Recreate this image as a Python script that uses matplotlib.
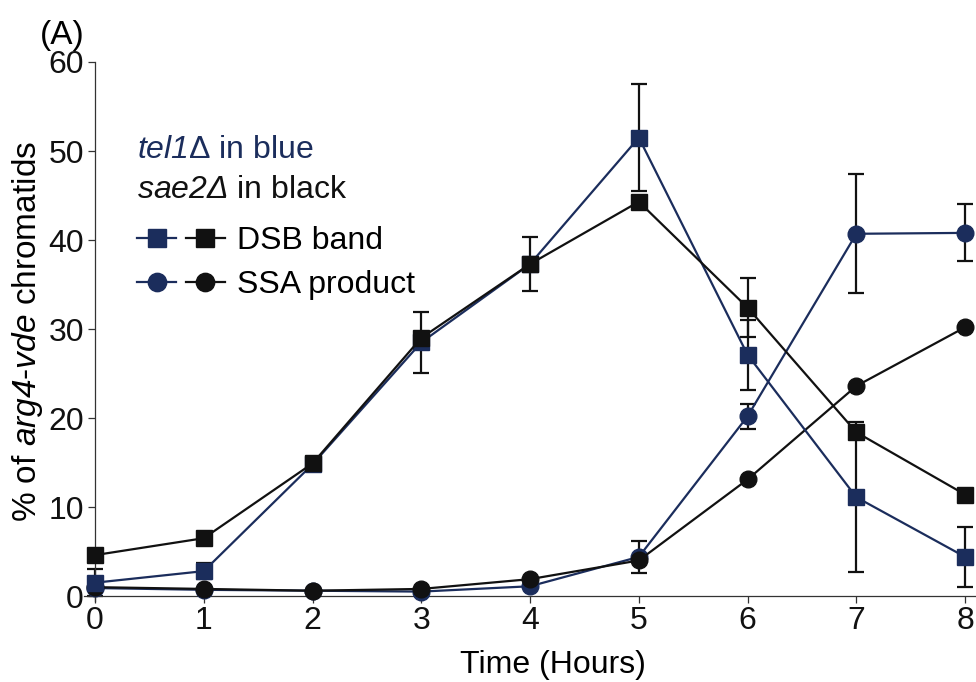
import matplotlib
matplotlib.use("Agg")
import matplotlib.pyplot as plt
from matplotlib.legend_handler import HandlerTuple

plt.rcParams['font.family'] = ['Liberation Sans', 'DejaVu Sans']
plt.rcParams['mathtext.fontset'] = 'custom'
# only the italic words go through mathtext, so digits there must be italic too
plt.rcParams['mathtext.rm'] = 'Liberation Sans:italic'
plt.rcParams['mathtext.it'] = 'Liberation Sans:italic'

hours = [0, 1, 2, 3, 4, 5, 6, 7, 8]

tel1_dsb = [1.5, 2.8, 14.8, 28.5, 37.3, 51.5, 27.1, 11.1, 4.4]
sae2_dsb = [4.6, 6.5, 14.9, 29.0, 37.3, 44.3, 32.4, 18.4, 11.4]
tel1_ssa = [0.9, 0.7, 0.6, 0.5, 1.1, 4.4, 20.2, 40.7, 40.8]
sae2_ssa = [1.0, 0.8, 0.6, 0.8, 1.9, 4.0, 13.1, 23.6, 30.2]

tel1_dsb_err = [1.5, 0.9, 0, 3.4, 3.0, 6.0, 3.9, 8.4, 3.4]
sae2_dsb_err = [0, 0, 0, 0, 0, 0, 3.3, 0, 0]
tel1_ssa_err = [0, 0, 0, 0, 0, 1.8, 1.4, 6.7, 3.2]
sae2_ssa_err = [0, 0, 0, 0, 0, 0, 0, 0, 0]

blue = '#1b2d5c'
black = '#111111'

fig = plt.figure(figsize=(9.76, 6.82), dpi=100)
ax = fig.add_axes([0.0862, 0.1195, 0.9138, 0.7896])

ekw = dict(fmt='none', ecolor=black, elinewidth=1.6, capsize=6, capthick=1.6, zorder=2)
for y, e in [(tel1_dsb, tel1_dsb_err), (sae2_dsb, sae2_dsb_err),
             (tel1_ssa, tel1_ssa_err), (sae2_ssa, sae2_ssa_err)]:
    ax.errorbar(hours, y, yerr=e, **ekw)

mk = dict(lw=1.6, markersize=12, clip_on=False, zorder=3)
l_ts, = ax.plot(hours, tel1_ssa, color=blue, marker='o', **mk)
l_ss, = ax.plot(hours, sae2_ssa, color=black, marker='o', **mk)
l_td, = ax.plot(hours, tel1_dsb, color=blue, marker='s', **mk)
l_sd, = ax.plot(hours, sae2_dsb, color=black, marker='s', **mk)

ax.set_xlim(-0.1, 8.1)
ax.set_ylim(-0.5, 60)
ax.spines['top'].set_visible(False)
ax.spines['right'].set_visible(False)
ax.spines['left'].set_position(('data', 0))
ax.spines['bottom'].set_position(('data', 0))
ax.spines['left'].set_bounds(-0.5, 60)
for s in ['left', 'bottom']:
    ax.spines[s].set_linewidth(0.9)
    ax.spines[s].set_color('#333333')
ax.set_xticks(hours)
ax.set_yticks([0, 10, 20, 30, 40, 50, 60])
ax.tick_params(axis='both', labelsize=23, direction='out', length=5, width=0.9,
               colors='#333333', labelcolor='#111111')
ax.tick_params(axis='x', pad=2)
ax.tick_params(axis='y', pad=3)

ax.set_xlabel('Time (Hours)', fontsize=23)
ax.xaxis.set_label_coords(0.526, -0.092)
ax.set_ylabel('% of $arg4$-$vde$ chromatids', fontsize=24, labelpad=2)

fig.text(0.041, 0.948, '(A)', fontsize=24, va='center')

ax.text(0.059, 0.837, '$tel1$\u0394 in blue', transform=ax.transAxes,
        fontsize=23, color=blue, va='center')
ax.text(0.059, 0.762, '$sae2\u0394$ in black', transform=ax.transAxes,
        fontsize=23, color=black, va='center')

ax.legend([(l_td, l_sd), (l_ts, l_ss)], ['DSB band', 'SSA product'],
          handler_map={tuple: HandlerTuple(ndivide=None, pad=0.3)},
          loc='upper left', bbox_to_anchor=(0.0594, 0.696), frameon=False,
          fontsize=23, handlelength=2.75, handletextpad=0.37, labelspacing=0.46,
          markerscale=1.1, borderaxespad=0, borderpad=0)

fig.savefig('out.png', dpi=100)
